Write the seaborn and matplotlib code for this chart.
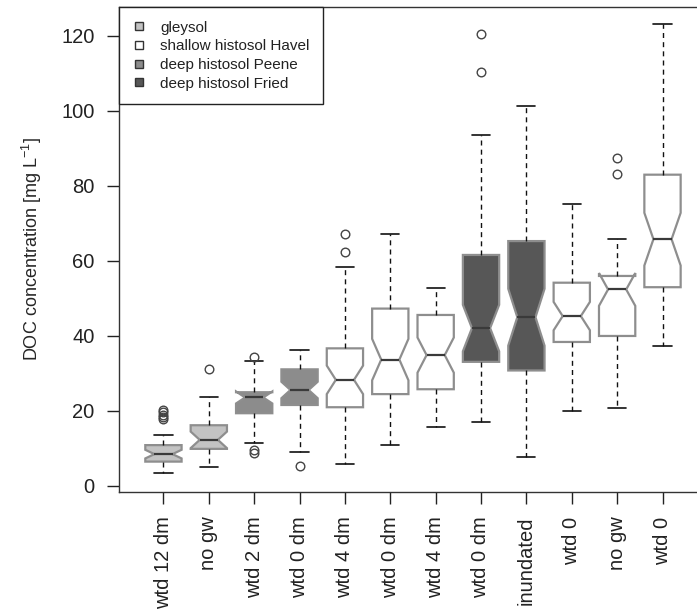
import numpy as np
import pandas as pd
import seaborn as sns
import matplotlib.pyplot as plt
from matplotlib.lines import Line2D

# ---- values (mg/L) ----
group_labels = ["wtd 12 dm", "no gw", "wtd 2 dm", "wtd 0 dm", "wtd 4 dm", "wtd 0 dm",
                "wtd 4 dm", "wtd 0 dm", "inundated", "wtd 0", "no gw", "wtd 0"]
soil = ["gleysol", "gleysol", "deep histosol Peene", "deep histosol Peene",
        "shallow histosol Havel", "shallow histosol Havel", "shallow histosol Havel",
        "deep histosol Fried", "deep histosol Fried",
        "shallow histosol Havel", "shallow histosol Havel", "shallow histosol Havel"]
whisker_low = [3.4, 5.1, 11.4, 9.1, 5.9, 10.9, 15.8, 17.1, 7.6, 20.0, 20.9, 37.3]
q1 = [6.5, 9.9, 19.4, 21.6, 21.0, 24.5, 25.8, 33.1, 30.8, 38.4, 40.0, 53.0]
median = [8.5, 12.3, 23.6, 25.6, 28.3, 33.7, 34.9, 42.1, 45.0, 45.3, 52.4, 65.8]
q3 = [10.9, 16.2, 25.0, 31.1, 36.7, 47.3, 45.6, 61.6, 65.3, 54.2, 56.0, 83.0]
whisker_high = [13.6, 23.6, 33.2, 36.3, 58.3, 67.1, 52.9, 93.7, 101.2, 75.3, 65.8, 123.2]
# sample sizes, estimated from the notch widths
n_obs = [36, 20, 30, 46, 42, 42, 44, 52, 51, 43, 33, 45]
outliers = [[17.8, 18.4, 19.0, 19.6, 20.2], [31.1], [34.5, 9.6, 8.9], [5.3],
            [62.3, 67.1], [], [], [110.5, 120.6], [], [], [83.2, 87.4], []]

soil_order = ["gleysol", "shallow histosol Havel", "deep histosol Peene", "deep histosol Fried"]
soil_colors = ["#c3c3c3", "#ffffff", "#8c8c8c", "#575757"]


def sample_from_summary(lo, a, med, b, hi, n, out):
    # rebuild a sample of size n whose quartiles / whiskers / fliers are the ones read above
    low = [lo] + [v for v in out if v < lo]
    high = [hi] + [v for v in out if v > hi]
    p2 = 0.5 * (n - 1)
    m_lo, m_hi = int(np.floor(p2)), int(np.ceil(p2))
    n_a = m_lo - len(low)
    n_med = m_hi - m_lo + 1
    n_b = n - len(low) - n_a - n_med - len(high)
    return low + [a] * n_a + [med] * n_med + [b] * n_b + high


rows = []
for i in range(len(group_labels)):
    vals = sample_from_summary(whisker_low[i], q1[i], median[i], q3[i],
                               whisker_high[i], n_obs[i], outliers[i])
    rows += [{"group": i, "soil": soil[i], "doc": v} for v in vals]
df = pd.DataFrame(rows)

sns.set_theme(style="ticks")
plt.rcParams["font.family"] = ["Liberation Sans", "DejaVu Sans"]
plt.rcParams["mathtext.fontset"] = "custom"
plt.rcParams["mathtext.rm"] = "Liberation Sans"
plt.rcParams["mathtext.it"] = "Liberation Sans:italic"
plt.rcParams["text.color"] = "#222222"

fig = plt.figure(figsize=(6.97, 6.16), dpi=100)
ax = fig.add_axes([0.1707, 0.2013, 0.8436, 0.7873])

sns.boxplot(
    data=df, x="group", y="doc", hue="soil", hue_order=soil_order,
    palette=dict(zip(soil_order, soil_colors)), saturation=1, dodge=False,
    notch=True, width=0.8, legend=False, ax=ax,
    boxprops={"edgecolor": "#8e8e8e", "linewidth": 1.6},
    medianprops={"color": "#3a3a3a", "linewidth": 1.6},
    whiskerprops={"color": "#111111", "linewidth": 1.0, "linestyle": (0, (3.6, 3))},
    capprops={"color": "#111111", "linewidth": 1.2},
    flierprops={"marker": "o", "markerfacecolor": "none", "markeredgecolor": "#444444",
                "markersize": 6.2, "markeredgewidth": 1.0},
)

ax.set_xlim(-0.98, 11.98)
ax.set_ylim(-1.6, 127.7)
ax.set_yticks(range(0, 121, 20))
ax.set_xticks(range(len(group_labels)))
ax.set_xticklabels(group_labels, rotation=90)
ax.tick_params(axis="both", length=8.6, width=1.0, color="#222222", labelsize=14.5,
               labelcolor="#222222", pad=9)
for s in ax.spines.values():
    s.set_visible(True)
    s.set_linewidth(1.0)
    s.set_color("#333333")
ax.set_xlabel("")
ax.set_ylabel(r"DOC concentration [mg L$^{-1}$]", fontsize=13, labelpad=12)

handles = [Line2D([], [], marker="s", linestyle="none", markersize=5.5,
                  markerfacecolor=c, markeredgecolor="#333333", markeredgewidth=1.0)
           for c in soil_colors]
leg = ax.legend(handles, soil_order, loc="upper left", bbox_to_anchor=(0, 1),
                borderaxespad=0, fontsize=11, frameon=True, fancybox=False,
                edgecolor="#222222", framealpha=1, borderpad=0.9, handlelength=0.8,
                handletextpad=0.98, labelspacing=0.3)
leg.get_frame().set_linewidth(1.0)

fig.savefig("out.png", dpi=100)
